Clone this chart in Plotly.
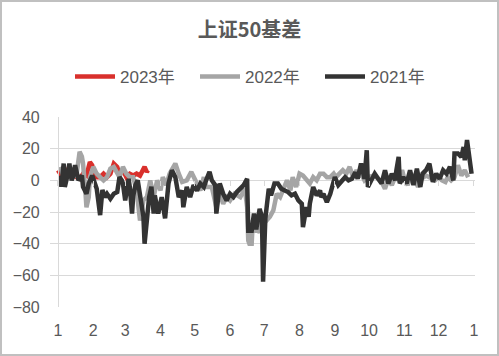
import plotly.graph_objects as go

# ---- data (day-of-year, basis value) ----
month_ticks = [0, 31, 59, 90, 120, 151, 181, 212, 243, 273, 304, 334, 365]
month_labels = ["1", "2", "3", "4", "5", "6", "7", "8", "9", "10", "11", "12", "1"]

days_2023 = [0, 3, 5, 8, 11, 14, 16, 19, 22, 25, 28, 30, 31, 34, 37, 40, 43, 46, 49, 52,
             54, 57, 60, 63, 66, 69, 72, 75, 76, 78, 79]
vals_2023 = [6.4, 3, 8.5, 4.2, 4.2, 6.4, 2, 1, 4.2, 3, 11.6, 9.5, 6.4, 2, 2, 4.2, 2, 4.2, 10.6, 8.5,
             4.2, 6.4, 2, 4.2, 3, 4.2, 3, 7.4, 8.5, 5.3, 6.4]

days_2022 = [2, 5, 8, 12, 16, 19, 21, 22, 24, 25, 27, 28, 31, 34, 37, 40, 43, 46, 49, 52,
             54, 57, 60, 63, 66, 69, 72, 75, 78, 81, 84, 87, 90, 92, 95, 98, 103, 106, 109, 113,
             117, 122, 125, 128, 130, 135, 139, 142, 145, 148, 151, 155, 160, 164, 166, 167, 168, 170, 171, 173,
             174, 176, 177, 180, 183, 186, 189, 192, 195, 198, 201, 204, 206, 209, 212, 215, 218, 221, 224, 227,
             230, 233, 236, 239, 242, 244, 247, 250, 253, 256, 259, 262, 265, 266, 269, 272, 278, 284, 287, 290,
             293, 296, 299, 302, 304, 307, 310, 313, 316, 319, 323, 328, 331, 334, 337, 340, 342, 345, 348, 351,
             354, 357, 360]
vals_2022 = [8.5, 2, 4.2, 6.4, 2, 18, 15, 10.6, -6.4, -17, -10.6, 2, 8.5, 4.2, 2, 0, 2, 7.4, 8.5, 4.2,
             2, 8.5, 4.2, 2, 2, -6.4, -25.4, -12.7, -10.6, 0, -10.6, 0, -6.4, 2, -3, 4.2, 10.6, 4.2, -1, 0,
             5.3, -2, -6.4, 2, -4.2, -4.2, -17, -8.5, -14.8, -10.6, -12.7, -8.5, -10.6, -5.3, -17, -38, -40, -40, -25, -27.5,
             -31.8, -31.8, -33, -21, -25.4, -23, -19, -8.5, -10.6, -5.3, 0, -6.4, 2, -4.2, 4.2, 3, 0, -2, 2, 0,
             4.2, 4.2, 2, 2, 4.2, 2, 4.2, 6.4, 4.2, 8.5, 2, 6.4, 2, 4.2, 0, 2, 3, -1, -5.3, 1,
             -3, 2, 0, 6.4, 1, -3, 4.2, 1, -4.2, 1, 3, 1, 0, 2, 0, -1, 2, 0, 2, 9.5,
             3, 6.4, 2]

days_2021 = [2, 3, 5, 6, 8, 10, 12, 13, 15, 18, 21, 22, 25, 27, 30, 32, 34, 37, 39, 41,
             43, 46, 49, 52, 53, 54, 56, 57, 59, 60, 62, 63, 65, 66, 68, 70, 71, 73, 75, 76,
             78, 80, 82, 84, 85, 88, 91, 94, 97, 100, 103, 106, 109, 110, 113, 116, 119, 122, 125, 128,
             130, 133, 135, 138, 139, 141, 142, 145, 148, 151, 154, 157, 160, 163, 166, 167, 170, 171, 172, 174,
             177, 179, 180, 182, 185, 187, 190, 193, 196, 199, 202, 205, 208, 211, 214, 215, 217, 218, 220, 221,
             224, 227, 230, 231, 233, 236, 239, 242, 243, 246, 249, 252, 255, 258, 261, 263, 266, 269, 271, 272,
             275, 278, 281, 284, 287, 290, 293, 296, 297, 299, 300, 303, 306, 309, 312, 315, 318, 320, 323, 326,
             329, 332, 335, 338, 341, 344, 347, 348, 351, 354, 356, 357, 359, 361, 363]
vals_2021 = [3, -4, 10.6, -4.2, 2, 10.6, 0, 2, 9.5, 0, 3, -4.2, -8.5, -2, 3, -2, -5.3, -22, -6, -10.6,
             -8.5, -11.6, -8.5, -7.4, -4, 2, 0, -2, -12.7, -6, 1, -4, -21, -10, -3, 0, -5, -10.6, -23, -40,
             -25, -10.6, -4, -21, -9.5, -21, -10.6, -24, -2, 6.4, 2, -10.6, -6.4, -17, -4.2, -10.6, -3, -6.4, -2, -4.2,
             0, 5.3, 0, -3, -21, -10.6, -2, -8.5, -12.7, -8.5, -10.6, -7.4, -5.3, -3, 1, -31.8, -31.8, -26, -21, -31,
             -18, -23, -64, -24, -5.3, -9.5, -2, -2, -5.3, -6.4, -7.4, -9.5, -8.5, -12.7, -14.8, -29.6, -21, -17, -23, -14.8,
             -4.2, -9.5, -6.4, -10.6, -8.5, -13.8, -8.5, -2, 2, -3, 0, 2, 0, 1, 5, 1, 10.6, 1, 19, -4.2,
             0, 4.2, 1, -2, 6.4, -2, 4.2, 0, 6.4, 14.8, -2, 2, -2, 6.4, -3, 7.4, -4.2, 4.2, 6.4, 10.6,
             -1, 4.2, 1, 6.4, 4.2, 8.5, 0, 17, 17, 14.8, 21, 12.7, 25.4, 12.7, 4.2]

series = [
    ("2023年", days_2023, vals_2023, "#d9302c"),
    ("2022年", days_2022, vals_2022, "#a5a5a5"),
    ("2021年", days_2021, vals_2021, "#333333"),
]

FONT = "Liberation Sans, Noto Sans CJK SC, sans-serif"
TXT = "#595959"
GRID = "#d9d9d9"
X_RANGE = [-7, 366]

fig = go.Figure()
for name, d, v, c in series:
    fig.add_trace(go.Scatter(x=d, y=v, mode="lines", name=name,
                             line=dict(color=c, width=4.5), hoverinfo="skip"))
# empty trace to activate the tick-mark axis on the zero line
fig.add_trace(go.Scatter(x=[], y=[], xaxis="x2", showlegend=False, hoverinfo="skip"))

fig.update_layout(
    width=499, height=356,
    margin=dict(l=50, r=24, t=117, b=49, autoexpand=False),
    paper_bgcolor="white", plot_bgcolor="white",
    font=dict(family=FONT, color=TXT),
    title=dict(text="<b>上证50基差</b>", x=0.5, xanchor="center", y=1 - 30 / 356, yanchor="middle",
               font=dict(family="Noto Sans CJK SC, sans-serif", size=20, color=TXT)),
    showlegend=True,
    legend=dict(orientation="h", x=(70 - 50) / 425, xanchor="left", y=1 + 40 / 190, yanchor="middle",
                font=dict(family=FONT, size=17, color=TXT), bgcolor="rgba(0,0,0,0)",
                itemwidth=40, tracegroupgap=0, entrywidth=70, entrywidthmode="pixels"),
    xaxis=dict(range=X_RANGE, tickmode="array", tickvals=month_ticks, ticktext=month_labels,
               showgrid=False, zeroline=False, showline=False, ticks="", automargin=False,
               tickfont=dict(size=16, color=TXT), ticklabelstandoff=12),
    xaxis2=dict(overlaying="x", anchor="free", position=80 / 120, range=X_RANGE,
                tickmode="array", tickvals=month_ticks, ticks="outside", ticklen=5,
                tickcolor=GRID, tickwidth=1, showticklabels=False, automargin=False,
                showgrid=False, zeroline=False, showline=False),
    yaxis=dict(range=[-80, 40], tickmode="linear", tick0=-80, dtick=20, automargin=False,
               showgrid=True, gridcolor=GRID, gridwidth=1, zeroline=False,
               anchor="free", position=7 / 373, showline=True, linecolor=GRID, linewidth=1,
               ticks="", ticklabelstandoff=15, tickfont=dict(size=16, color=TXT)),
    shapes=[dict(type="rect", xref="paper", yref="paper",
                 x0=-49 / 425, x1=448 / 425, y0=-48 / 190, y1=306 / 190,
                 line=dict(color="#c0c0c0", width=2), fillcolor="rgba(0,0,0,0)", layer="below")],
)

fig.write_html("out.html", config={"displayModeBar": False, "staticPlot": True},
               post_script="document.body.style.margin='0';document.body.style.overflow='hidden';")
